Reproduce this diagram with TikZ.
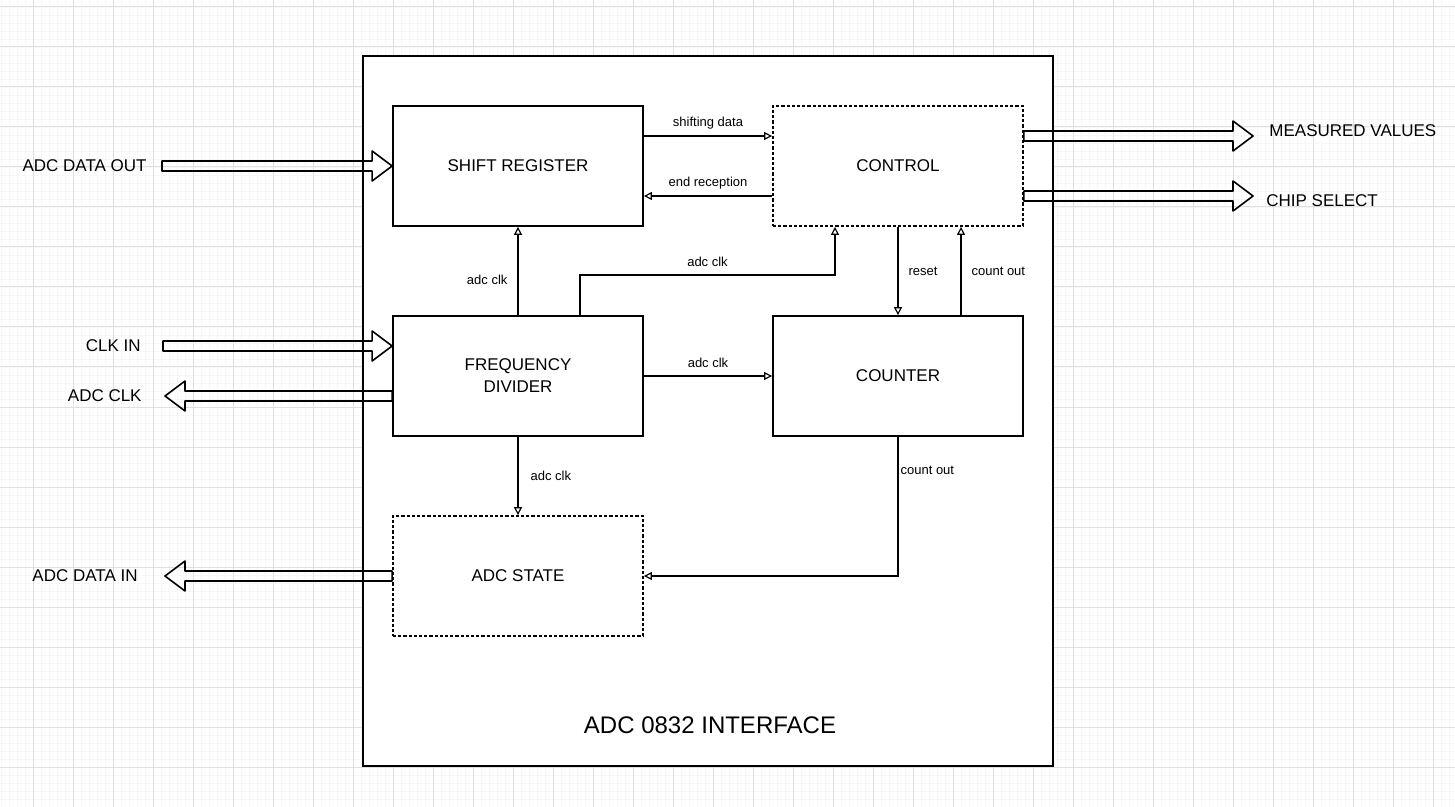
\documentclass[tikz,border=0pt]{standalone}
\usepackage{fontspec}
\setmainfont{Liberation Sans}
\usetikzlibrary{arrows.meta,calc}
\newcommand\fatarrow[2]{%
  \draw[fat] let \p1=(#1), \p2=(#2), \n1={ifthenelse(\x2>\x1,1,-1)} in
    (\x1,\y1+2.5pt) -- (\x2-\n1*10pt,\y1+2.5pt) -- (\x2-\n1*10pt,\y1+7.5pt) --
    (\x2,\y1) -- (\x2-\n1*10pt,\y1-7.5pt) -- (\x2-\n1*10pt,\y1-2.5pt) --
    (\x1,\y1-2.5pt) -- cycle;}
\begin{document}
\begin{tikzpicture}[x=0.5pt,y=-0.5pt,
  box/.style={draw, line width=0.9pt, minimum width=125pt, minimum height=60pt,
    font=\fontsize{8.5}{11}\selectfont, align=center, fill=white},
  dbox/.style={box, dash pattern=on 1.6pt off 1pt},
  conn/.style={draw, line width=0.6pt, -{Triangle[open,length=4pt,width=4pt]}},
  lab/.style={font=\fontsize{6.5}{8}\selectfont, inner sep=1pt},
  io/.style={font=\fontsize{8.5}{10}\selectfont, inner sep=0pt},
  fat/.style={draw, line width=0.8pt, line join=round}]
\useasboundingbox (0,0) rectangle (1455,807);
\fill[white] (0,0) rectangle (1455,807);
% grid
\foreach \x in {1,9,...,1455} \draw[black!3, line width=0.4pt] (\x,0) -- (\x,807);
\foreach \y in {7,15,...,807} \draw[black!3, line width=0.4pt] (0,\y) -- (1455,\y);
\foreach \x in {33,73,...,1455} \draw[black!12, line width=0.5pt] (\x,0) -- (\x,807);
\foreach \y in {7,47,...,807} \draw[black!12, line width=0.5pt] (0,\y) -- (1455,\y);
% main frame
\node[draw, fill=white, line width=1pt, minimum width=345pt, minimum height=355pt, inner sep=0pt] (main) at (708,411) {};
\node[font=\fontsize{12}{14}\selectfont] (title) at (710,725) {ADC 0832 INTERFACE};
% blocks
\node[box] (sr) at (518,166) {SHIFT REGISTER};
\node[dbox] (ctl) at (898,166) {CONTROL};
\node[box] (fd) at (518,376) {FREQUENCY\\DIVIDER};
\node[box] (cnt) at (898,376) {COUNTER};
\node[dbox] (as) at (518,576) {ADC STATE};
% inner connectors
\draw[conn] ([yshift=15pt]sr.east) -- ([yshift=15pt]ctl.west) node[lab, midway, above=2pt] (l1) {shifting data};
\draw[conn] ([yshift=-15pt]ctl.west) -- ([yshift=-15pt]sr.east) node[lab, midway, above=2pt] (l2) {end reception};
\draw[conn] (fd.north) -- (sr.south) node[lab, pos=0.4, left=4pt] (l3) {adc clk};
\draw[conn] ([xshift=31pt]fd.north) -- ++(0,-40) coordinate (b1) -| ([xshift=-31.5pt]ctl.south) node[lab, pos=0.25, above=3pt] (l4) {adc clk};
\draw[conn] (ctl.south) -- (cnt.north) node[lab, midway, right=4pt] (l5) {reset};
\draw[conn] ([xshift=31.5pt]cnt.north) -- ([xshift=31.5pt]ctl.south) node[lab, midway, right=4pt] (l6) {count out};
\draw[conn] (fd.east) -- (cnt.west) node[lab, midway, above=3pt] (l7) {adc clk};
\draw[conn] (fd.south) -- (as.north) node[lab, midway, right=5pt] (l8) {adc clk};
\draw[conn] (cnt.south) |- (as.east) node[lab, pos=0.12, anchor=west, inner sep=0pt, xshift=1pt] (l9) {count out};
% external fat arrows
\coordinate (dout) at (162,166);
\coordinate (clkin) at (163,346);
\coordinate (adcclk) at (165,396);
\coordinate (din) at (165,576);
\coordinate (mv) at (1253,136);
\coordinate (cs) at (1253,196);
\fatarrow{dout}{sr.west}
\fatarrow{clkin}{$(fd.west)+(0,-30)$}
\fatarrow{$(fd.west)+(0,20)$}{adcclk}
\fatarrow{as.west}{din}
\fatarrow{$(ctl.east)+(0,-30)$}{mv}
\fatarrow{$(ctl.east)+(0,30)$}{cs}
\node[io, anchor=east] (tdout) at (147,166) {ADC DATA OUT};
\node[io, anchor=east] (tclkin) at (141,346) {CLK IN};
\node[io, anchor=east] (tadcclk) at (142,396) {ADC CLK};
\node[io, anchor=east] (tdin) at (138,576) {ADC DATA IN};
\node[io, anchor=west] (tmv) at (1269,131) {MEASURED VALUES};
\node[io, anchor=west] (tcs) at (1266,201) {CHIP SELECT};
\end{tikzpicture}
\end{document}
